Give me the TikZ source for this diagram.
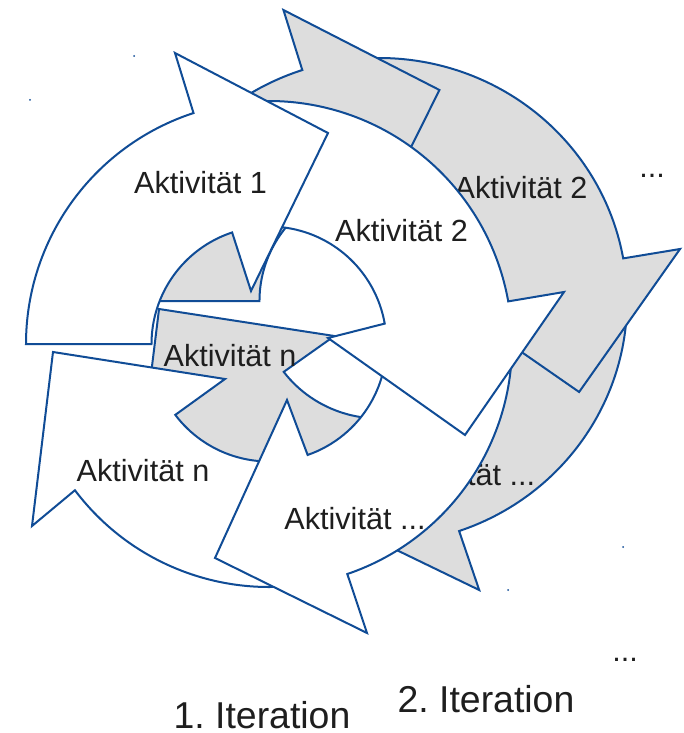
\documentclass[tikz,border=0pt]{standalone}
\usepackage{fontspec}
\setmainfont{Liberation Sans}
\definecolor{edgeblue}{RGB}{16,76,150}
\definecolor{fillgray}{RGB}{221,221,221}
\definecolor{textdark}{RGB}{30,30,30}
\tikzset{
  cyc/.style={draw=edgeblue, line width=1pt, line join=miter},
  lbl/.style={anchor=base, inner sep=0pt, text=textdark, font=\fontsize{15.3}{18}\selectfont\frenchspacing},
  itlbl/.style={anchor=base, inner sep=0pt, text=textdark, font=\fontsize{18.7}{22}\selectfont\frenchspacing},
  speck/.style={fill=edgeblue}
}
% one cycle of four block arrows, centre at (269,344); drawn n, ..., 2, 1
\newcommand\drawcycle[1]{%
\begin{scope}[shift={(269,344)}]
  \filldraw[cyc,fill=#1] (72.2:243) arc[start angle=72.2,end angle=143,radius=243]
     -- (-237,182) -- (-216,8) -- (-44,35)
     -- (142.9:117.5) arc[start angle=142.9,end angle=72.2,radius=117.5] -- cycle;
  \filldraw[cyc,fill=#1] (351:243) arc[start angle=351,end angle=431.2,radius=243]
     -- (98,289) -- (-54,214) -- (18,56)
     -- (430.8:117.5) arc[start angle=430.8,end angle=351,radius=117.5] -- cycle;
  \filldraw[cyc,fill=#1] (252.9:243) arc[start angle=252.9,end angle=349.9,radius=243]
     -- (295,-52) -- (196,91) -- (59,-6)
     -- (350:117.5) arc[start angle=350,end angle=252.9,radius=117.5] -- cycle;
  \filldraw[cyc,fill=#1] (180:243) arc[start angle=180,end angle=251.9,radius=243]
     -- (-94,-291) -- (59,-211) -- (-18,-53)
     -- (251.7:117.5) arc[start angle=251.7,end angle=180,radius=117.5] -- cycle;
\end{scope}}

\begin{document}
\begin{tikzpicture}[x=0.5pt,y=-0.5pt]
\useasboundingbox (0,0) rectangle (684,733);
\fill[white] (0,0) rectangle (684,733);

% 2. Iteration (grey, behind)
\begin{scope}[shift={(105,-43)}, xscale=1.0196]
  \drawcycle{fillgray}
\end{scope}
\node[lbl] (g2) at (521,198) {Aktivität 2};
\node[lbl] (g3) at (464.5,485) {Aktivität ...};
\node[lbl] (gn) at (230,366.5) {Aktivität n};

% 1. Iteration (white, in front)
\drawcycle{white}
\node[lbl] (w1) at (200.5,193) {Aktivität 1};
\node[lbl] (w2) at (401.5,241) {Aktivität 2};
\node[lbl] (wn) at (143,481) {Aktivität n};
\node[lbl] (w3) at (355,529) {Aktivität ...};

% further labels
\node[lbl] (dotsA) at (652,177) {...};
\node[lbl] (dotsB) at (625,661) {...};
\node[itlbl] (it1) at (262,728) {1. Iteration};
\node[itlbl] (it2) at (486,712.5) {2. Iteration};

% small specks
\fill[speck] (30,100) circle[radius=1];
\fill[speck] (134,56) circle[radius=1];
\fill[speck] (623,547) circle[radius=1];
\fill[speck] (508,590) circle[radius=1];
\end{tikzpicture}
\end{document}
